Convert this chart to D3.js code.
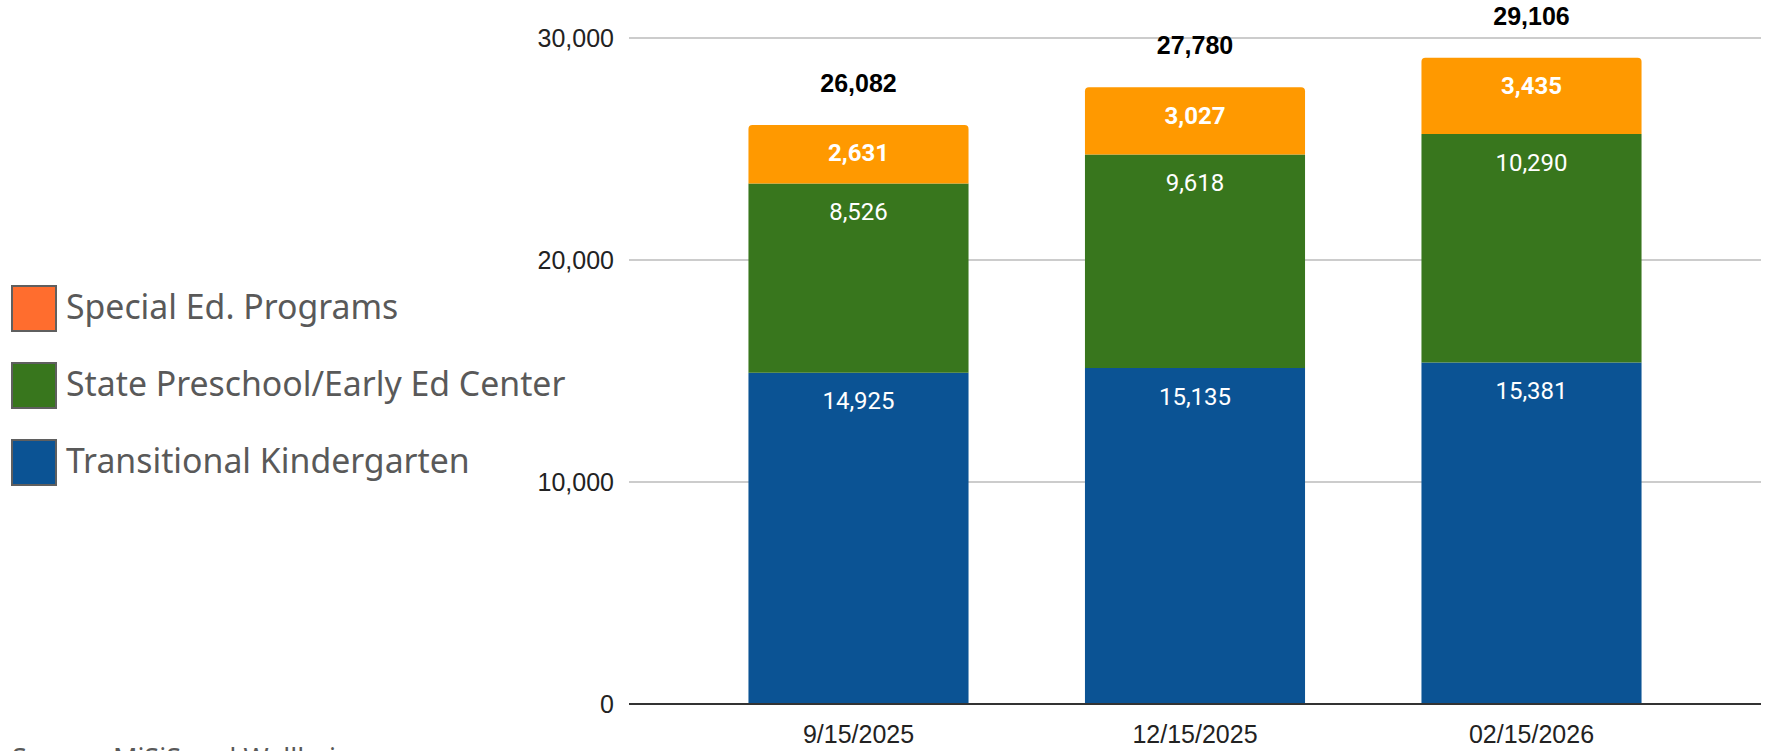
<!DOCTYPE html>
<html>
<head>
<meta charset="utf-8">
<script src="https://cdn.jsdelivr.net/npm/d3@7"></script>
<style>
  html, body { margin: 0; padding: 0; background: #fff; overflow: hidden; }
  svg { display: block; }
</style>
</head>
<body>
<svg id="chart" width="1767" height="751"></svg>
<script>
// ---- Data ----
const categories = ["9/15/2025", "12/15/2025", "02/15/2026"];
const seriesNames = ["Transitional Kindergarten", "State Preschool/Early Ed Center", "Special Ed. Programs"];
const transitionalK = [14925, 15135, 15381];
const statePreschool = [8526, 9618, 10290];
const specialEd = [2631, 3027, 3435];
const totals = [26082, 27780, 29106];
const yTicks = [0, 10000, 20000, 30000];
const legendOrder = ["Special Ed. Programs", "State Preschool/Early Ed Center", "Transitional Kindergarten"];
const sourceNote = "Source: MiSiS and Wellbeing";

// ---- Styles ----
const barColors = {
  "Transitional Kindergarten": "#0B5394",
  "State Preschool/Early Ed Center": "#38761D",
  "Special Ed. Programs": "#FF9900"
};
const legendColors = {
  "Transitional Kindergarten": "#0B5394",
  "State Preschool/Early Ed Center": "#38761D",
  "Special Ed. Programs": "#FF6D2E"
};

const svg = d3.select("#chart");
const plotLeft = 629, plotRight = 1761, plotTop = 38, plotBottom = 704;

const x = d3.scaleBand().domain(categories).range([plotLeft, plotRight])
  .paddingInner(0.346).paddingOuter(0.355);
const y = d3.scaleLinear().domain([0, 30000]).range([plotBottom, plotTop]);

// gridlines
svg.append("g").selectAll("line").data(yTicks.filter(d => d > 0)).join("line")
  .attr("x1", plotLeft).attr("x2", plotRight)
  .attr("y1", d => y(d)).attr("y2", d => y(d))
  .attr("stroke", "#cccccc").attr("stroke-width", 2);

// y axis labels
const yAxis = d3.axisLeft(y).tickValues(yTicks).tickFormat(d3.format(",")).tickSize(0).tickPadding(15);
const gy = svg.append("g").attr("transform", `translate(${plotLeft},0)`).call(yAxis);
gy.select(".domain").remove();
gy.selectAll("text")
  .attr("font-family", "'Liberation Sans', Arial, sans-serif")
  .attr("font-size", 25).attr("fill", "#222");

// stacked data
const rows = categories.map((c, i) => ({
  cat: c,
  "Transitional Kindergarten": transitionalK[i],
  "State Preschool/Early Ed Center": statePreschool[i],
  "Special Ed. Programs": specialEd[i]
}));
const stack = d3.stack().keys(seriesNames);
const stacked = stack(rows);

function roundedTopPath(x0, y0, w, h, r) {
  return `M${x0},${y0 + h} L${x0},${y0 + r} Q${x0},${y0} ${x0 + r},${y0} L${x0 + w - r},${y0} Q${x0 + w},${y0} ${x0 + w},${y0 + r} L${x0 + w},${y0 + h} Z`;
}

const layers = svg.append("g").selectAll("g").data(stacked).join("g")
  .attr("fill", d => barColors[d.key]);

layers.each(function(layer, li) {
  const isTop = li === stacked.length - 1;
  d3.select(this).selectAll("path").data(layer).join("path")
    .attr("d", d => {
      const x0 = x(d.data.cat), w = x.bandwidth();
      const yTop = y(d[1]), h = y(d[0]) - y(d[1]);
      return roundedTopPath(x0, yTop, w, h, isTop ? 4 : 0);
    });
});

// segment labels
const labels = svg.append("g");
stacked.forEach((layer, li) => {
  const isTop = li === stacked.length - 1;
  labels.selectAll(null).data(layer).join("text")
    .attr("x", d => x(d.data.cat) + x.bandwidth() / 2)
    .attr("y", d => y(d[1]) + 36.5)
    .attr("text-anchor", "middle")
    .attr("font-family", "Roboto, sans-serif")
    .attr("font-size", 24)
    .attr("font-weight", isTop ? 700 : 400)
    .attr("fill", "#ffffff")
    .text(d => d3.format(",")(d[1] - d[0]));
});

// totals
svg.append("g").selectAll("text").data(categories).join("text")
  .attr("x", d => x(d) + x.bandwidth() / 2)
  .attr("y", (d, i) => y(totals[i]) - 33)
  .attr("text-anchor", "middle")
  .attr("font-family", "'Liberation Sans', Arial, sans-serif")
  .attr("font-size", 25).attr("font-weight", 700).attr("fill", "#000")
  .text((d, i) => d3.format(",")(totals[i]));

// zero axis line
svg.append("line")
  .attr("x1", plotLeft).attr("x2", plotRight)
  .attr("y1", y(0)).attr("y2", y(0))
  .attr("stroke", "#333").attr("stroke-width", 2);

// x axis labels
const xAxis = d3.axisBottom(x).tickSize(0).tickPadding(0);
const gx = svg.append("g").attr("transform", `translate(0,${plotBottom})`).call(xAxis);
gx.select(".domain").remove();
gx.selectAll("text")
  .attr("y", 39).attr("dy", null)
  .attr("font-family", "'Liberation Sans', Arial, sans-serif")
  .attr("font-size", 25).attr("fill", "#222");

// legend
const legend = svg.append("g");
const lg = legend.selectAll("g").data(legendOrder).join("g")
  .attr("transform", (d, i) => `translate(12,${286 + i * 77})`);
lg.append("rect")
  .attr("width", 44).attr("height", 45)
  .attr("fill", d => legendColors[d])
  .attr("stroke", "#5f5f5f").attr("stroke-width", 2);
lg.append("text")
  .attr("x", 54).attr("y", 33)
  .attr("font-family", "'Noto Sans', sans-serif")
  .attr("font-size", 33.8).attr("fill", "#595959")
  .text(d => d);

// source note (clipped at the bottom edge, as in the original)
svg.append("text")
  .attr("x", 12).attr("y", 768)
  .attr("font-family", "'Noto Sans', sans-serif")
  .attr("font-size", 27).attr("fill", "#595959")
  .text(sourceNote);
</script>
</body>
</html>
